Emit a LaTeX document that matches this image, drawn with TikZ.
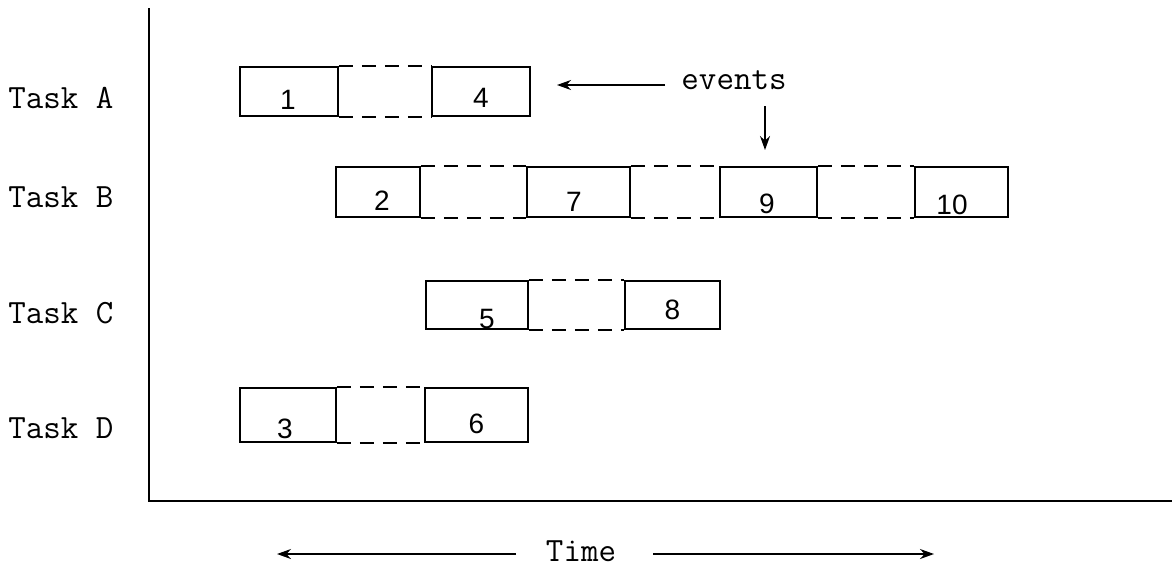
\documentclass[tikz,border=0pt]{standalone}
\usepackage{fontspec}
\newfontfamily\digitfont{Liberation Sans}
\usetikzlibrary{arrows.meta}
\tikzset{
  box/.style={draw, line width=0.8pt, inner sep=0pt},
  dig/.style={inner sep=0pt, font=\digitfont\fontsize{14}{14}\selectfont},
  gap/.style={line width=0.8pt, dash pattern=on 7pt off 4.5pt},
  axis/.style={line width=0.9pt},
  lbl/.style={font=\ttfamily\fontsize{17}{17}\selectfont, inner sep=0pt},
  arr/.style={line width=0.8pt, -{Stealth[length=7pt,width=5pt]}}
}
\begin{document}
\begin{tikzpicture}[x=0.5pt,y=-0.5pt]
\useasboundingbox (0,0) rectangle (1176,569);
% axes
\coordinate (top) at (149,8);
\coordinate (orig) at (149,501);
\coordinate (right) at (1172,501);
\draw[axis] (top) -- (orig) -- (right);
% task labels
\node[lbl, anchor=west] (ta) at (8,98) {Task A};
\node[lbl, anchor=west] (tb) at (8,197) {Task B};
\node[lbl, anchor=west] (tc) at (8,313) {Task C};
\node[lbl, anchor=west] (td) at (8,428) {Task D};
% boxes
\node[box, minimum width=49pt, minimum height=24.5pt, label={[dig, xshift=-0.5pt, yshift=-4pt]center:1}] (b1) at (289,91.5) {};
\node[box, minimum width=49pt, minimum height=24.5pt, label={[dig, yshift=-3pt]center:4}] (b4) at (481,91.5) {};
\node[box, minimum width=42pt, minimum height=25pt, label={[dig, xshift=2pt, yshift=-4.5pt]center:2}] (b2) at (378,192) {};
\node[box, minimum width=51.5pt, minimum height=25pt, label={[dig, xshift=-2.25pt, yshift=-5pt]center:7}] (b7) at (578.5,192) {};
\node[box, minimum width=48.5pt, minimum height=25pt, label={[dig, xshift=-0.75pt, yshift=-6pt]center:9}] (b9) at (768.5,192) {};
\node[box, minimum width=46.5pt, minimum height=25pt, label={[dig, xshift=-4.75pt, yshift=-6.5pt]center:10}] (b10) at (961.5,192) {};
\node[box, minimum width=51pt, minimum height=24pt, label={[dig, xshift=5pt, yshift=-7pt]center:5}] (b5) at (477,305) {};
\node[box, minimum width=47.5pt, minimum height=24pt, label={[dig, yshift=-2.5pt]center:8}] (b8) at (672.5,305) {};
\node[box, minimum width=48pt, minimum height=27pt, label={[dig, xshift=-1.5pt, yshift=-7pt]center:3}] (b3) at (288,415) {};
\node[box, minimum width=51.5pt, minimum height=27pt, label={[dig, yshift=-4.5pt]center:6}] (b6) at (476.5,415) {};
% dashed connections
\foreach \a/\b in {b1/b4, b2/b7, b7/b9, b9/b10, b5/b8, b3/b6} {
  \draw[gap] (\a.north east) -- (\b.north west);
  \draw[gap] (\a.south east) -- (\b.south west);
}
% events
\node[lbl] (ev) at (734,80) {events};
\coordinate (evs) at (665,85);
\coordinate (evtip) at (557,85);
\coordinate (evd) at (765,106);
\coordinate (evdown) at (765,150);
\draw[arr] (evs) -- (evtip);
\draw[arr] (evd) -- (evdown);
% time
\node[lbl] (time) at (581,551) {Time};
\coordinate (tls) at (516,554);
\coordinate (tl) at (277,554);
\coordinate (trs) at (653,554);
\coordinate (tr) at (934,554);
\draw[arr] (tls) -- (tl);
\draw[arr] (trs) -- (tr);
\end{tikzpicture}
\end{document}
